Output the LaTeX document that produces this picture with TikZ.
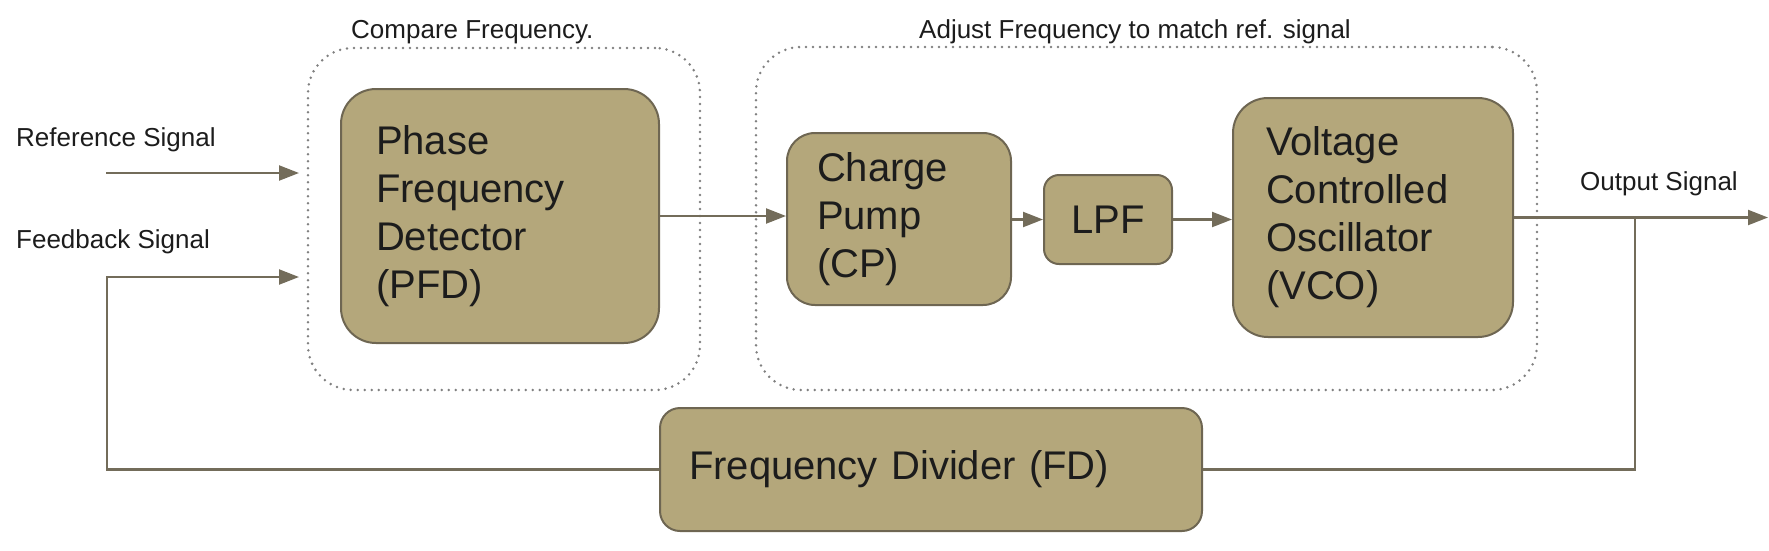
\documentclass[tikz,border=0pt]{standalone}
\usepackage{fontspec}
\setmainfont{Liberation Sans}
\usetikzlibrary{arrows.meta,calc}
\definecolor{boxfill}{HTML}{B4A77B}
\definecolor{boxline}{HTML}{6E6652}
\definecolor{wirec}{HTML}{736C5A}
\definecolor{dotc}{HTML}{808080}
\definecolor{txtc}{HTML}{1C1C1C}
\begin{document}
\begin{tikzpicture}[x=1pt,y=-1pt,
  blk/.style={draw=boxline, line width=2pt, fill=boxfill, rounded corners=#1,
    inner sep=0pt, font=\fontsize{40}{48}\selectfont, text=txtc, align=left},
  grp/.style={draw=dotc, line width=2.8pt, dash pattern=on 0pt off 7pt,
    line cap=round, rounded corners=45pt, inner sep=0pt},
  wire/.style={draw=wirec, line width=2.2pt},
  arr/.style={wire, -{Triangle[length=20pt,width=15pt]}},
  lbl/.style={inner sep=0pt, font=\fontsize{26}{31}\selectfont, text=txtc}]
\useasboundingbox (0,0) rectangle (1769,550);

% group frames
\node[grp, minimum width=392pt, minimum height=342pt] (g1) at (504,219) {};
\node[grp, minimum width=781pt, minimum height=343pt] (g2) at (1146.5,218.5) {};

% blocks
\node[blk=35pt, minimum width=318pt, minimum height=254pt, text width=248pt] (pfd) at (500,216) {Phase\\Frequency\\Detector\\(PFD)};
\node[blk=28pt, minimum width=224pt, minimum height=172pt, text width=164pt] (cp) at (899,219) {Charge\\Pump\\(CP)};
\node[blk=15pt, minimum width=128pt, minimum height=89pt, align=center] (lpf) at (1108,219.5) {LPF};
\node[blk=35pt, minimum width=280pt, minimum height=239pt, text width=214pt] (vco) at (1373,217.5) {Voltage\\Controlled\\Oscillator\\(VCO)};
\node[blk=20pt, minimum width=542pt, minimum height=123pt, text width=484pt] (fd) at (931,469.5) {Frequency Divider (FD)};

% labels
\node[lbl, anchor=base west] (reflbl) at (16,146) {Reference Signal};
\node[lbl, anchor=base west] (fblbl) at (16,248) {Feedback Signal};
\node[lbl, anchor=base west] (outlbl) at (1580,190) {Output Signal};
\node[lbl, anchor=base west] (g1lbl) at (351,38) {Compare Frequency.};
\node[lbl, anchor=base west] (g2lbl) at (919,38) {Adjust Frequency to match ref. signal};

% free ends
\coordinate (refin) at (106,173);
\coordinate (refend) at (299,173);
\coordinate (fbend) at (299,277);
\coordinate (fbx) at (107,469.5);
\coordinate (tap) at (1635,217.5);
\coordinate (out) at (1768,217.5);

% connectors
\draw[arr] (refin) -- (refend);
\draw[arr] (fd.west) -- (fbx) |- (fbend);
\draw[arr] (pfd.east) -- (pfd.east -| cp.west);
\draw[arr] (cp.east |- lpf.west) -- (lpf.west);
\draw[arr] (lpf.east) -- (lpf.east -| vco.west);
\draw[arr] (vco.east) -- (out);
\draw[wire] (tap) |- (fd.east);
\end{tikzpicture}
\end{document}
